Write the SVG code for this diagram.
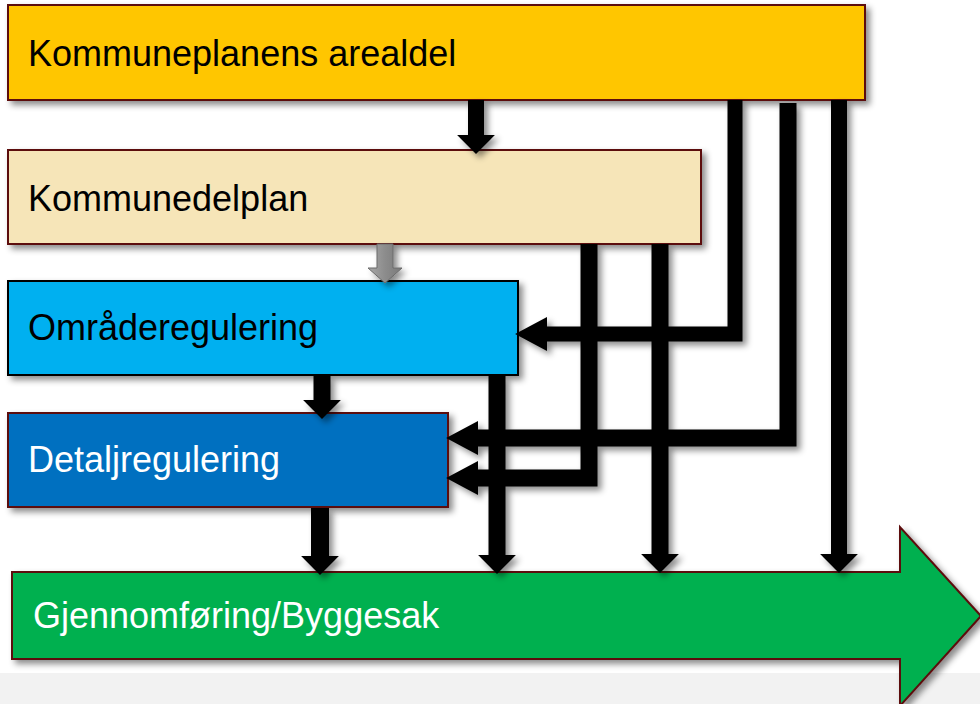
<svg xmlns="http://www.w3.org/2000/svg" width="980" height="704" viewBox="0 0 980 704">
  <defs>
    <filter id="shadow" x="-10%" y="-10%" width="130%" height="130%">
      <feDropShadow dx="4" dy="4" stdDeviation="3" flood-color="#000" flood-opacity="0.45"/>
    </filter>
    <!-- short downward heads (length 16, half-width 17) -->
    <marker id="headShort" markerUnits="userSpaceOnUse" markerWidth="20" markerHeight="40" refX="0" refY="17" viewBox="0 0 18 34" orient="auto" overflow="visible">
      <path d="M0,0 L17,17 L0,34 z" fill="#000"/>
    </marker>
    <!-- long leftward heads (length 30, half-width 16) -->
    <marker id="headLong" markerUnits="userSpaceOnUse" markerWidth="32" markerHeight="34" refX="0" refY="16" viewBox="0 0 30 32" orient="auto" overflow="visible">
      <path d="M0,0 L30,16 L0,32 z" fill="#000"/>
    </marker>
    <linearGradient id="greyArrow" x1="0" y1="0" x2="1" y2="0">
      <stop offset="0" stop-color="#a8a8a8"/>
      <stop offset="0.5" stop-color="#8c8c8c"/>
      <stop offset="1" stop-color="#7a7a7a"/>
    </linearGradient>
  </defs>
  <style>
    .box { stroke: #5c0a0a; stroke-width: 2; filter: url(#shadow); }
    .lbl { font-family: "Liberation Sans", Arial, sans-serif; font-size: 36px; }
    .dark { fill: #000; }
    .light { fill: #fff; }
    .conn { fill: none; stroke: #000; stroke-linejoin: miter; stroke-linecap: butt; }
  </style>

  <rect x="0" y="0" width="980" height="704" fill="#fff"/>
  <rect x="0" y="673" width="980" height="31" fill="#f2f2f2"/>

  <g id="kommuneplan">
    <rect class="box" x="8" y="5" width="857" height="95" fill="#ffc600"/>
    <text class="lbl dark" x="28" y="66">Kommuneplanens arealdel</text>
  </g>

  <g id="kommunedelplan">
    <rect class="box" x="8" y="150" width="693" height="94" fill="#f6e5b8"/>
    <text class="lbl dark" x="28" y="211">Kommunedelplan</text>
  </g>

  <g id="omraderegulering">
    <rect class="box" x="8" y="281" width="510" height="94" fill="#00b0f0" style="stroke:#000"/>
    <text class="lbl dark" x="28" y="340">Områderegulering</text>
  </g>

  <g id="detaljregulering">
    <rect class="box" x="8" y="413" width="440" height="94" fill="#0070c0"/>
    <text class="lbl light" x="28" y="472">Detaljregulering</text>
  </g>

  <g id="gjennomforing">
    <polygon class="box" points="12,572 900,572 900,527 981,616 900,706 900,659 12,659" fill="#00b050"/>
    <text class="lbl light" x="33" y="628">Gjennomføring/Byggesak</text>
  </g>

  <g id="connectors" filter="url(#shadow)">
    <!-- straight steps down the hierarchy -->
    <path class="conn" d="M476,100 V135" stroke-width="16" marker-end="url(#headShort)"/>
    <path d="M377,244 H393 V268 H402 L385,283 L368,268 H377 Z" fill="url(#greyArrow)" stroke="#6a6a6a" stroke-width="1"/>
    <path class="conn" d="M322,376 V400" stroke-width="17" marker-end="url(#headShort)"/>
    <path class="conn" d="M320,508 V556" stroke-width="18" marker-end="url(#headShort)"/>

    <!-- bypass routes on the right -->
    <path class="conn" d="M735,100 V334 H547" stroke-width="15" marker-end="url(#headLong)"/>
    <path class="conn" d="M788,103 V438 H478" stroke-width="17" marker-end="url(#headLong)"/>
    <path class="conn" d="M839,100 V554" stroke-width="16" marker-end="url(#headShort)"/>
    <path class="conn" d="M589,244 V478 H478" stroke-width="17" marker-end="url(#headLong)"/>
    <path class="conn" d="M660,244 V554" stroke-width="17" marker-end="url(#headShort)"/>
    <path class="conn" d="M497,376 V555" stroke-width="17" marker-end="url(#headShort)"/>
  </g>
</svg>
